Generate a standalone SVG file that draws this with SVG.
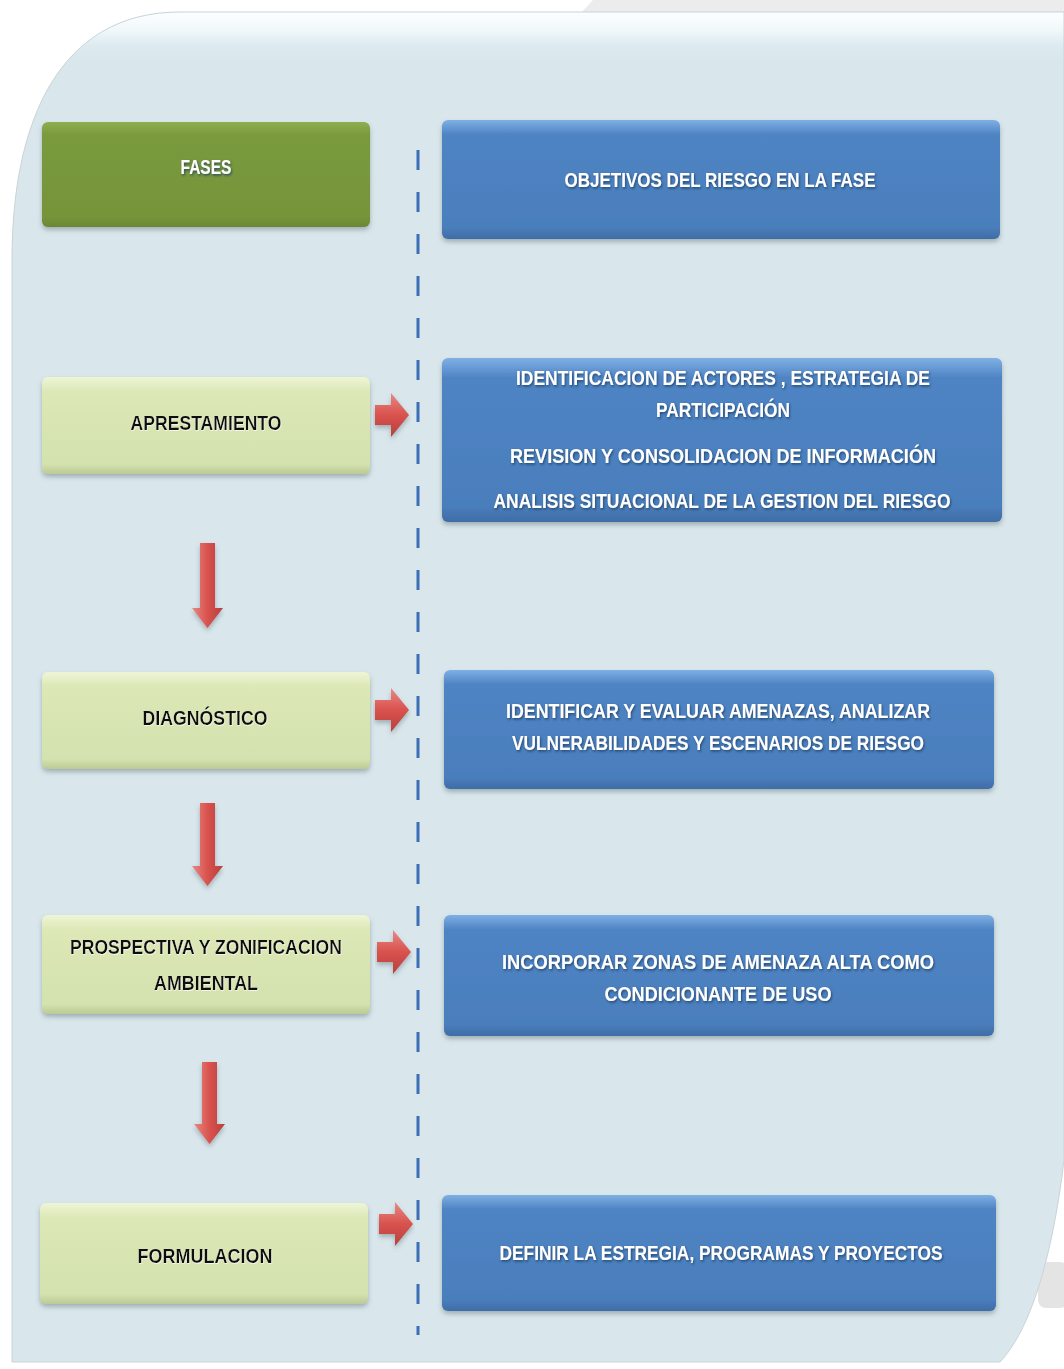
<svg xmlns="http://www.w3.org/2000/svg" width="1064" height="1369" viewBox="0 0 1064 1369">
<defs>
<linearGradient id="gDark" x1="0" y1="0" x2="0" y2="1">
<stop offset="0" stop-color="#8FAE4E"/><stop offset="0.12" stop-color="#7A9A3E"/><stop offset="0.9" stop-color="#76953A"/><stop offset="1" stop-color="#6A8834"/>
</linearGradient>
<linearGradient id="gLight" x1="0" y1="0" x2="0" y2="1">
<stop offset="0" stop-color="#EEF5D6"/><stop offset="0.15" stop-color="#DCE8B6"/><stop offset="0.9" stop-color="#D3E2AE"/><stop offset="1" stop-color="#BCCB95"/>
</linearGradient>
<linearGradient id="gBlue" x1="0" y1="0" x2="0" y2="1">
<stop offset="0" stop-color="#7FB0E4"/><stop offset="0.12" stop-color="#4F84C4"/><stop offset="0.9" stop-color="#4A7EBC"/><stop offset="1" stop-color="#3F6DA6"/>
</linearGradient>
<linearGradient id="gRedV" x1="0" y1="0" x2="1" y2="0">
<stop offset="0" stop-color="#E88884"/><stop offset="0.5" stop-color="#D9524E"/><stop offset="1" stop-color="#B7403C"/>
</linearGradient>
<linearGradient id="gRedH" x1="0" y1="0" x2="0" y2="1">
<stop offset="0" stop-color="#E88884"/><stop offset="0.5" stop-color="#D9524E"/><stop offset="1" stop-color="#B7403C"/>
</linearGradient>
<linearGradient id="gPanel" gradientUnits="userSpaceOnUse" x1="0" y1="12" x2="0" y2="60">
<stop offset="0" stop-color="#FBFEFF"/><stop offset="0.35" stop-color="#F2F9FB"/><stop offset="0.7" stop-color="#DDEAF0"/><stop offset="1" stop-color="#D9E7ED"/>
</linearGradient>
<filter id="sh" x="-5%" y="-10%" width="110%" height="130%">
<feDropShadow dx="0" dy="3" stdDeviation="2.5" flood-color="#5A6A70" flood-opacity="0.45"/>
</filter>
<filter id="tsW" x="-5%" y="-20%" width="110%" height="150%">
<feDropShadow dx="1" dy="1.5" stdDeviation="0.8" flood-color="#1E3A5F" flood-opacity="0.8"/>
</filter>
<filter id="tsB" x="-5%" y="-20%" width="110%" height="150%">
<feDropShadow dx="0.5" dy="1" stdDeviation="0.6" flood-color="#FFFFFF" flood-opacity="0.7"/>
</filter>
<style>
.t{font-family:"Liberation Sans",Arial,sans-serif;font-weight:bold;font-size:21px;text-anchor:middle}
.w{fill:#FFFFFF;filter:url(#tsW)}
.k{fill:#111111;filter:url(#tsB)}
.dark{fill:url(#gDark);filter:url(#sh)}
.light{fill:url(#gLight);filter:url(#sh)}
.blue{fill:url(#gBlue);filter:url(#sh)}
.arr{filter:url(#sh)}
</style>
</defs>
<rect x="0" y="0" width="1064" height="1369" fill="#FFFFFF"/>
<path d="M593 0 H1064 V14 H580 Z" fill="#ECECEC"/>
<rect x="1038" y="1262" width="30" height="46" rx="8" fill="#E4E4E4"/>
<path d="M12 1362 V260 C12 120 60 12 180 12 H1064 V1160 C1052 1260 1030 1330 1000 1362 Z" fill="url(#gPanel)" stroke="#C9D3D8" stroke-width="1"/>
<line id="divider" x1="418" y1="150" x2="418" y2="1335" stroke="#3D6DB5" stroke-width="3" stroke-dasharray="20 22"/>

<g id="fases">
<rect class="dark" x="42" y="122" width="328" height="105" rx="6"/>
<text class="t w" x="206" y="174" textLength="51" lengthAdjust="spacingAndGlyphs">FASES</text>
</g>
<g id="objetivos">
<rect class="blue" x="442" y="120" width="558" height="119" rx="6"/>
<text class="t w" x="720" y="187" textLength="311" lengthAdjust="spacingAndGlyphs">OBJETIVOS DEL RIESGO EN LA FASE</text>
</g>

<g id="aprestamiento">
<rect class="light" x="42" y="377" width="328" height="97" rx="6"/>
<text class="t k" x="206" y="430" textLength="151" lengthAdjust="spacingAndGlyphs">APRESTAMIENTO</text>
</g>
<g id="obj-aprestamiento">
<rect class="blue" x="442" y="358" width="560" height="164" rx="6"/>
<text class="t w" x="723" y="385" textLength="414" lengthAdjust="spacingAndGlyphs">IDENTIFICACION  DE ACTORES , ESTRATEGIA DE</text>
<text class="t w" x="723" y="417" textLength="134" lengthAdjust="spacingAndGlyphs">PARTICIPACIÓN</text>
<text class="t w" x="723" y="463" textLength="426" lengthAdjust="spacingAndGlyphs">REVISION Y CONSOLIDACION  DE INFORMACIÓN</text>
<text class="t w" x="722" y="508" textLength="457" lengthAdjust="spacingAndGlyphs">ANALISIS SITUACIONAL DE LA GESTION DEL RIESGO</text>
</g>

<g id="diagnostico">
<rect class="light" x="42" y="672" width="328" height="97" rx="6"/>
<text class="t k" x="205" y="725" textLength="125" lengthAdjust="spacingAndGlyphs">DIAGNÓSTICO</text>
</g>
<g id="obj-diagnostico">
<rect class="blue" x="444" y="670" width="550" height="119" rx="6"/>
<text class="t w" x="718" y="718" textLength="424" lengthAdjust="spacingAndGlyphs">IDENTIFICAR Y EVALUAR AMENAZAS, ANALIZAR</text>
<text class="t w" x="718" y="750" textLength="412" lengthAdjust="spacingAndGlyphs">VULNERABILIDADES Y ESCENARIOS DE RIESGO</text>
</g>

<g id="prospectiva">
<rect class="light" x="42" y="915" width="328" height="99" rx="6"/>
<text class="t k" x="206" y="954" textLength="272" lengthAdjust="spacingAndGlyphs">PROSPECTIVA Y ZONIFICACION</text>
<text class="t k" x="206" y="990" textLength="104" lengthAdjust="spacingAndGlyphs">AMBIENTAL</text>
</g>
<g id="obj-prospectiva">
<rect class="blue" x="444" y="915" width="550" height="121" rx="6"/>
<text class="t w" x="718" y="969" textLength="432" lengthAdjust="spacingAndGlyphs">INCORPORAR  ZONAS DE AMENAZA ALTA COMO</text>
<text class="t w" x="718" y="1001" textLength="227" lengthAdjust="spacingAndGlyphs">CONDICIONANTE DE USO</text>
</g>

<g id="formulacion">
<rect class="light" x="40" y="1203" width="328" height="101" rx="6"/>
<text class="t k" x="205" y="1263" textLength="135" lengthAdjust="spacingAndGlyphs">FORMULACION</text>
</g>
<g id="obj-formulacion">
<rect class="blue" x="442" y="1195" width="554" height="116" rx="6"/>
<text class="t w" x="721" y="1260" textLength="443" lengthAdjust="spacingAndGlyphs">DEFINIR LA ESTREGIA, PROGRAMAS Y PROYECTOS</text>
</g>

<g id="connectors">
<path class="arr" fill="url(#gRedH)" d="M375 405 H391 V393 L409 415 L391 437 V425 H375 Z"/>
<path class="arr" fill="url(#gRedH)" d="M375 700 H391 V688 L409 710 L391 732 V720 H375 Z"/>
<path class="arr" fill="url(#gRedH)" d="M377 942 H393 V930 L411 952 L393 974 V962 H377 Z"/>
<path class="arr" fill="url(#gRedH)" d="M379 1214 H395 V1202 L413 1224 L395 1246 V1234 H379 Z"/>
<path class="arr" fill="url(#gRedV)" d="M200 543 H215 V608 H223 L207.5 628 L192 608 H200 Z"/>
<path class="arr" fill="url(#gRedV)" d="M200 803 H215 V866 H223 L207.5 886 L192 866 H200 Z"/>
<path class="arr" fill="url(#gRedV)" d="M202 1062 H217 V1124 H225 L209.5 1144 L194 1124 H202 Z"/>
</g>
</svg>
